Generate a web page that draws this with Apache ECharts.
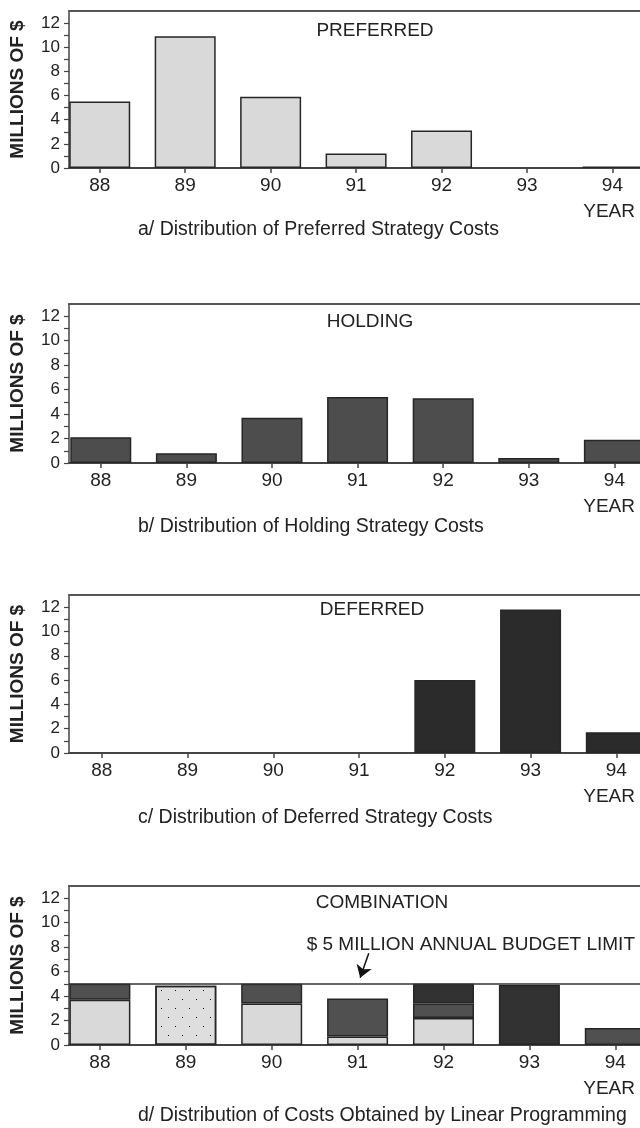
<!DOCTYPE html>
<html>
<head>
<meta charset="utf-8">
<script src="https://cdn.jsdelivr.net/npm/echarts@6/dist/echarts.min.js"></script>
<style>
  html, body { margin: 0; padding: 0; background: #fff; }
  #chart { width: 640px; height: 1128px; }
</style>
</head>
<body>
<div id="chart"></div>
<script>
// ---- data (millions of $ per fiscal year) ----
const years = [88, 89, 90, 91, 92, 93, 94];
const yTickValues = [0, 1, 2, 3, 4, 5, 6, 7, 8, 9, 10, 11, 12];
const yLabelValues = [0, 2, 4, 6, 8, 10, 12];

const preferredCosts = [5.5, 10.9, 5.9, 1.2, 3.1, 0, 0.12];
const holdingCosts   = [2.1, 0.8, 3.7, 5.4, 5.3, 0.4, 1.9];
const deferredCosts  = [0, 0, 0, 0, 6.0, 11.8, 1.7];

// linear-programming mix, stacked bottom to top
const comboPreferred = [3.7, 4.85, 3.4, 0.7, 2.2, 0, 0];
const comboHolding   = [1.3, 0, 1.6, 3.1, 1.2, 0, 1.4];
const comboDeferred  = [0, 0, 0, 0, 1.6, 4.9, 0];
const stippledYear = 89;

const budgetLimit = 5;
const limitArrow = [[91.13, 7.5], [91.03, 5.5]];

const panelTitles = ['PREFERRED', 'HOLDING', 'DEFERRED', 'COMBINATION'];
const captions = [
  'a/ Distribution of Preferred Strategy Costs',
  'b/ Distribution of Holding Strategy Costs',
  'c/ Distribution of Deferred Strategy Costs',
  'd/ Distribution of Costs Obtained by Linear Programming'
];
const yAxisName = 'MILLIONS OF $';
const xAxisName = 'YEAR';
const budgetNote = '$ 5 MILLION ANNUAL BUDGET LIMIT';

// ---- layout ----
const FONT = '"Liberation Sans", Arial, Helvetica, sans-serif';
const TEXT = '#222';
const AXIS = '#444';
const PX_PER_YEAR = 86.2;
const Y_MAX = 13;
const panels = [
  { top: 11,  axisY: 168,  left: 64, x88: 95, titleX: 375, titleY: 31,  captionY: 230 },
  { top: 304, axisY: 463,  left: 65, x88: 97, titleX: 370, titleY: 322, captionY: 527 },
  { top: 595, axisY: 753,  left: 66, x88: 99, titleX: 372, titleY: 610, captionY: 818 },
  { top: 886, axisY: 1045, left: 67, x88: 98, titleX: 382, titleY: 903, captionY: 1116 }
];

const COLORS = {
  light: '#d9d9d9',
  holding: '#4d4d4d',
  deferred: '#2b2b2b',
  border: '#262626'
};

// rows are [cost, year]; cost first so stacking runs along the y dimension
const toRows = vals => years.map((y, i) => [vals[i] === 0 ? '-' : vals[i], y]);

const grids = [], xAxes = [], topAxes = [], yAxes = [], graphics = [];

panels.forEach((p, i) => {
  const xMin = years[0] - (p.x88 - p.left) / PX_PER_YEAR;
  const xMax = xMin + (640 - p.left) / PX_PER_YEAR;

  grids.push({ left: p.left, right: 0, top: p.top, height: p.axisY - p.top, containLabel: false });

  xAxes.push({
    gridIndex: i, type: 'value', position: 'bottom', min: xMin, max: xMax,
    axisLine: { show: true, lineStyle: { color: AXIS, width: 2 } },
    axisTick: { show: true, customValues: years, length: 5, lineStyle: { color: AXIS, width: 1.5 } },
    axisLabel: { show: true, customValues: years, fontSize: 19, fontFamily: FONT, color: TEXT, margin: 8 },
    splitLine: { show: false }
  });

  topAxes.push({
    gridIndex: i, type: 'value', position: 'top', min: xMin, max: xMax,
    axisLine: { show: true, lineStyle: { color: '#555', width: 2 } },
    axisTick: { show: false }, axisLabel: { show: false }, splitLine: { show: false }
  });

  yAxes.push({
    gridIndex: i, type: 'value', min: 0, max: Y_MAX,
    axisLine: { show: true, lineStyle: { color: AXIS, width: 1.5 } },
    axisTick: { show: true, customValues: yTickValues, length: 5, lineStyle: { color: AXIS, width: 1.2 } },
    axisLabel: { show: true, customValues: yLabelValues, fontSize: 17, fontFamily: FONT, color: TEXT, margin: 9 },
    splitLine: { show: false },
    name: yAxisName, nameLocation: 'middle', nameRotate: 90, nameGap: 42,
    nameTextStyle: { fontSize: 19, fontWeight: 'bold', fontFamily: FONT, color: TEXT }
  });

  graphics.push({
    type: 'text', silent: true,
    style: { text: panelTitles[i], x: p.titleX, y: p.titleY, align: 'center', verticalAlign: 'middle',
             fontSize: 19, fontFamily: FONT, fill: TEXT }
  });
  graphics.push({
    type: 'text', silent: true,
    style: { text: xAxisName, x: 635, y: p.axisY + 44, align: 'right', verticalAlign: 'middle',
             fontSize: 19, fontFamily: FONT, fill: TEXT }
  });
  graphics.push({
    type: 'text', silent: true,
    style: { text: captions[i], x: 138, y: p.captionY, align: 'left', verticalAlign: 'middle',
             fontSize: 19.5, fontFamily: FONT, fill: TEXT }
  });
});

graphics.push({
  type: 'text', silent: true,
  style: { text: budgetNote, x: 635, y: 945, align: 'right', verticalAlign: 'middle',
           fontSize: 19, fontFamily: FONT, fill: TEXT }
});

const barBase = (i, color, vals) => ({
  type: 'bar', xAxisIndex: i, yAxisIndex: i, barWidth: 61,
  encode: { x: 1, y: 0 },
  itemStyle: { color: color, borderColor: COLORS.border, borderWidth: 1.5 },
  data: toRows(vals), silent: true, animation: false
});

const stippleDecal = {
  symbol: 'rect', symbolSize: 1, color: '#111',
  dashArrayX: [[1, 13], [0, 7, 1, 6]], dashArrayY: [1, 8]
};

const series = [
  barBase(0, COLORS.light, preferredCosts),
  barBase(1, COLORS.holding, holdingCosts),
  barBase(2, COLORS.deferred, deferredCosts)
];

const comboLight = barBase(3, COLORS.light, comboPreferred);
comboLight.stack = 'combo';
comboLight.data = comboLight.data.map(d => d[1] === stippledYear
  ? { value: d, itemStyle: { color: '#dedede', decal: stippleDecal } }
  : d);
comboLight.markLine = {
  silent: true, symbol: 'none', animation: false,
  label: { show: false },
  lineStyle: { color: '#333', width: 1.5, type: 'solid' },
  data: [{ yAxis: budgetLimit }]
};

const comboMid = barBase(3, '#505050', comboHolding);
comboMid.stack = 'combo';
comboMid.markLine = {
  silent: true, symbol: ['none', 'arrow'], symbolSize: 12, animation: false,
  label: { show: false },
  lineStyle: { color: '#111', width: 1.5, type: 'solid' },
  data: [[{ coord: limitArrow[0] }, { coord: limitArrow[1] }]]
};

const comboTop = barBase(3, '#323232', comboDeferred);
comboTop.stack = 'combo';

series.push(comboLight, comboMid, comboTop);

const chart = echarts.init(document.getElementById('chart'), null, { renderer: 'canvas' });
chart.setOption({
  backgroundColor: '#fff',
  animation: false,
  grid: grids,
  xAxis: xAxes.concat(topAxes),
  yAxis: yAxes,
  series: series,
  graphic: graphics
});
</script>
</body>
</html>
